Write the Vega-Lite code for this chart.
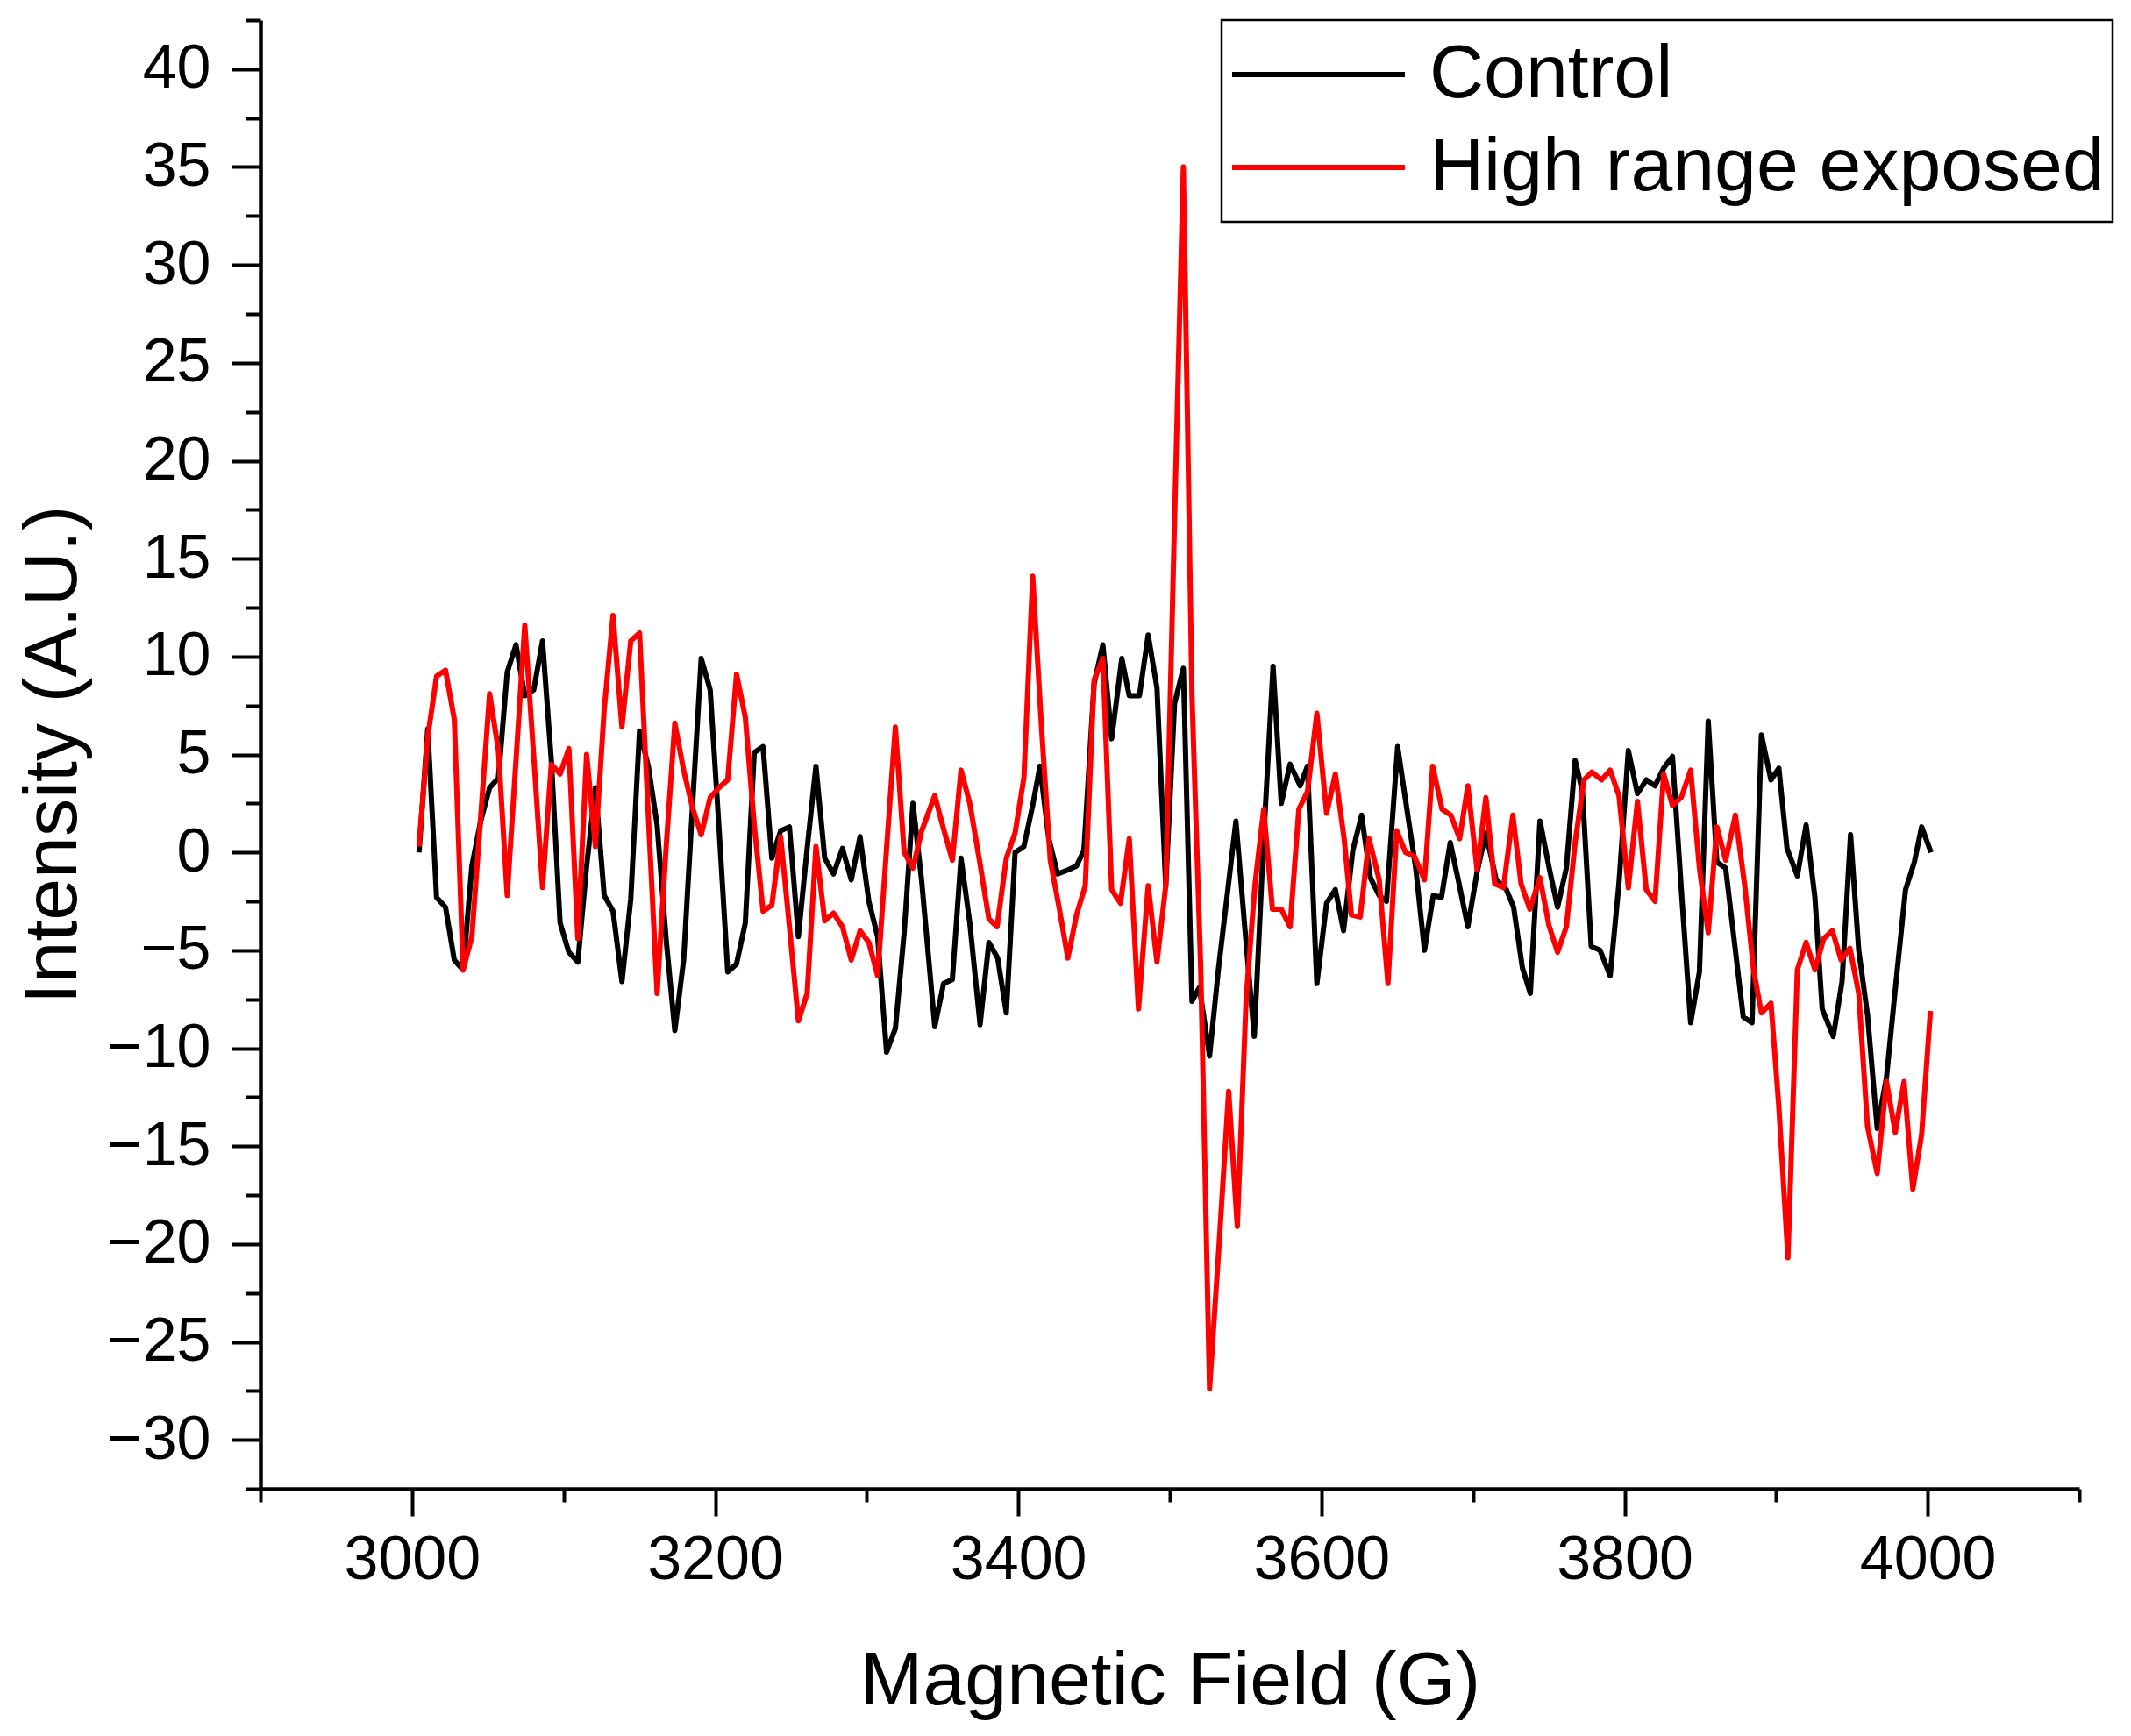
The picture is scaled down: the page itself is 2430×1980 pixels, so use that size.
{
  "$schema": "https://vega.github.io/schema/vega-lite/v6.json",
  "width": 2074,
  "height": 1675,
  "autosize": {"type": "none"},
  "padding": {"left": 297, "top": 23, "right": 59, "bottom": 282},
  "background": "white",
  "config": {
    "view": {"stroke": null},
    "font": "Liberation Sans",
    "legend": {"strokeWidth": 2.5}
  },
  "data": {
    "values": [
      {"series":"Control","magnetic_field":3004.6,"intensity":0.0},
      {"series":"Control","magnetic_field":3010.4,"intensity":6.3},
      {"series":"Control","magnetic_field":3016.2,"intensity":-2.3},
      {"series":"Control","magnetic_field":3022.1,"intensity":-2.8},
      {"series":"Control","magnetic_field":3027.9,"intensity":-5.5},
      {"series":"Control","magnetic_field":3033.7,"intensity":-6.0},
      {"series":"Control","magnetic_field":3039.5,"intensity":-0.7},
      {"series":"Control","magnetic_field":3045.3,"intensity":1.6},
      {"series":"Control","magnetic_field":3051.2,"intensity":3.3},
      {"series":"Control","magnetic_field":3057.0,"intensity":3.8},
      {"series":"Control","magnetic_field":3062.8,"intensity":9.2},
      {"series":"Control","magnetic_field":3068.6,"intensity":10.6},
      {"series":"Control","magnetic_field":3074.4,"intensity":8.0},
      {"series":"Control","magnetic_field":3080.3,"intensity":8.3},
      {"series":"Control","magnetic_field":3086.1,"intensity":10.8},
      {"series":"Control","magnetic_field":3091.9,"intensity":4.7},
      {"series":"Control","magnetic_field":3097.7,"intensity":-3.6},
      {"series":"Control","magnetic_field":3103.5,"intensity":-5.1},
      {"series":"Control","magnetic_field":3109.4,"intensity":-5.6},
      {"series":"Control","magnetic_field":3115.2,"intensity":-0.7},
      {"series":"Control","magnetic_field":3121.0,"intensity":3.3},
      {"series":"Control","magnetic_field":3126.8,"intensity":-2.2},
      {"series":"Control","magnetic_field":3132.6,"intensity":-3.0},
      {"series":"Control","magnetic_field":3138.5,"intensity":-6.6},
      {"series":"Control","magnetic_field":3144.3,"intensity":-2.4},
      {"series":"Control","magnetic_field":3150.1,"intensity":6.2},
      {"series":"Control","magnetic_field":3155.9,"intensity":4.4},
      {"series":"Control","magnetic_field":3161.7,"intensity":1.4},
      {"series":"Control","magnetic_field":3167.6,"intensity":-4.4},
      {"series":"Control","magnetic_field":3173.4,"intensity":-9.1},
      {"series":"Control","magnetic_field":3179.2,"intensity":-5.5},
      {"series":"Control","magnetic_field":3185.0,"intensity":2.3},
      {"series":"Control","magnetic_field":3190.8,"intensity":9.9},
      {"series":"Control","magnetic_field":3196.7,"intensity":8.3},
      {"series":"Control","magnetic_field":3202.5,"intensity":1.3},
      {"series":"Control","magnetic_field":3208.3,"intensity":-6.1},
      {"series":"Control","magnetic_field":3214.1,"intensity":-5.7},
      {"series":"Control","magnetic_field":3219.9,"intensity":-3.6},
      {"series":"Control","magnetic_field":3225.8,"intensity":5.1},
      {"series":"Control","magnetic_field":3231.6,"intensity":5.4},
      {"series":"Control","magnetic_field":3237.4,"intensity":-0.3},
      {"series":"Control","magnetic_field":3243.2,"intensity":1.1},
      {"series":"Control","magnetic_field":3249.0,"intensity":1.3},
      {"series":"Control","magnetic_field":3254.9,"intensity":-4.3},
      {"series":"Control","magnetic_field":3260.7,"intensity":0.2},
      {"series":"Control","magnetic_field":3266.5,"intensity":4.4},
      {"series":"Control","magnetic_field":3272.3,"intensity":-0.3},
      {"series":"Control","magnetic_field":3278.1,"intensity":-1.1},
      {"series":"Control","magnetic_field":3284.0,"intensity":0.2},
      {"series":"Control","magnetic_field":3289.8,"intensity":-1.4},
      {"series":"Control","magnetic_field":3295.6,"intensity":0.8},
      {"series":"Control","magnetic_field":3301.4,"intensity":-2.5},
      {"series":"Control","magnetic_field":3307.2,"intensity":-4.3},
      {"series":"Control","magnetic_field":3313.1,"intensity":-10.2},
      {"series":"Control","magnetic_field":3318.9,"intensity":-9.0},
      {"series":"Control","magnetic_field":3324.7,"intensity":-4.1},
      {"series":"Control","magnetic_field":3330.5,"intensity":2.5},
      {"series":"Control","magnetic_field":3336.3,"intensity":-1.5},
      {"series":"Control","magnetic_field":3344.9,"intensity":-8.9},
      {"series":"Control","magnetic_field":3350.7,"intensity":-6.7},
      {"series":"Control","magnetic_field":3356.5,"intensity":-6.5},
      {"series":"Control","magnetic_field":3362.2,"intensity":-0.3},
      {"series":"Control","magnetic_field":3368.0,"intensity":-3.6},
      {"series":"Control","magnetic_field":3374.8,"intensity":-8.8},
      {"series":"Control","magnetic_field":3380.6,"intensity":-4.6},
      {"series":"Control","magnetic_field":3386.4,"intensity":-5.4},
      {"series":"Control","magnetic_field":3392.1,"intensity":-8.2},
      {"series":"Control","magnetic_field":3397.9,"intensity":0.0},
      {"series":"Control","magnetic_field":3403.7,"intensity":0.3},
      {"series":"Control","magnetic_field":3409.5,"intensity":2.4},
      {"series":"Control","magnetic_field":3414.3,"intensity":4.4},
      {"series":"Control","magnetic_field":3420.1,"intensity":0.7},
      {"series":"Control","magnetic_field":3425.9,"intensity":-1.1},
      {"series":"Control","magnetic_field":3432.7,"intensity":-0.9},
      {"series":"Control","magnetic_field":3438.4,"intensity":-0.7},
      {"series":"Control","magnetic_field":3443.3,"intensity":0.1},
      {"series":"Control","magnetic_field":3450.0,"intensity":8.6},
      {"series":"Control","magnetic_field":3455.8,"intensity":10.6},
      {"series":"Control","magnetic_field":3461.6,"intensity":5.8},
      {"series":"Control","magnetic_field":3468.3,"intensity":9.9},
      {"series":"Control","magnetic_field":3473.2,"intensity":8.0},
      {"series":"Control","magnetic_field":3479.9,"intensity":8.0},
      {"series":"Control","magnetic_field":3485.7,"intensity":11.1},
      {"series":"Control","magnetic_field":3491.5,"intensity":8.4},
      {"series":"Control","magnetic_field":3497.3,"intensity":-1.7},
      {"series":"Control","magnetic_field":3503.1,"intensity":7.6},
      {"series":"Control","magnetic_field":3508.9,"intensity":9.4},
      {"series":"Control","magnetic_field":3514.6,"intensity":-7.6},
      {"series":"Control","magnetic_field":3519.5,"intensity":-6.9},
      {"series":"Control","magnetic_field":3526.2,"intensity":-10.4},
      {"series":"Control","magnetic_field":3532.0,"intensity":-6.0},
      {"series":"Control","magnetic_field":3537.8,"intensity":-2.2},
      {"series":"Control","magnetic_field":3543.6,"intensity":1.6},
      {"series":"Control","magnetic_field":3549.4,"intensity":-3.8},
      {"series":"Control","magnetic_field":3555.7,"intensity":-9.4},
      {"series":"Control","magnetic_field":3561.9,"intensity":0.7},
      {"series":"Control","magnetic_field":3568.1,"intensity":9.5},
      {"series":"Control","magnetic_field":3573.5,"intensity":2.5},
      {"series":"Control","magnetic_field":3579.3,"intensity":4.5},
      {"series":"Control","magnetic_field":3586.0,"intensity":3.4},
      {"series":"Control","magnetic_field":3590.8,"intensity":4.4},
      {"series":"Control","magnetic_field":3597.0,"intensity":-6.7},
      {"series":"Control","magnetic_field":3603.4,"intensity":-2.6},
      {"series":"Control","magnetic_field":3609.2,"intensity":-1.9},
      {"series":"Control","magnetic_field":3614.6,"intensity":-4.0},
      {"series":"Control","magnetic_field":3620.7,"intensity":0.1},
      {"series":"Control","magnetic_field":3626.5,"intensity":1.9},
      {"series":"Control","magnetic_field":3632.3,"intensity":-1.3},
      {"series":"Control","magnetic_field":3638.1,"intensity":-2.2},
      {"series":"Control","magnetic_field":3642.9,"intensity":-2.5},
      {"series":"Control","magnetic_field":3650.3,"intensity":5.4},
      {"series":"Control","magnetic_field":3656.4,"intensity":2.2},
      {"series":"Control","magnetic_field":3662.2,"intensity":-0.8},
      {"series":"Control","magnetic_field":3668.0,"intensity":-5.0},
      {"series":"Control","magnetic_field":3673.8,"intensity":-2.2},
      {"series":"Control","magnetic_field":3679.2,"intensity":-2.3},
      {"series":"Control","magnetic_field":3685.0,"intensity":0.5},
      {"series":"Control","magnetic_field":3690.8,"intensity":-1.6},
      {"series":"Control","magnetic_field":3696.6,"intensity":-3.8},
      {"series":"Control","magnetic_field":3702.7,"intensity":-1.0},
      {"series":"Control","magnetic_field":3708.5,"intensity":1.0},
      {"series":"Control","magnetic_field":3715.3,"intensity":-1.4},
      {"series":"Control","magnetic_field":3722.0,"intensity":-1.9},
      {"series":"Control","magnetic_field":3726.8,"intensity":-2.8},
      {"series":"Control","magnetic_field":3732.6,"intensity":-5.9},
      {"series":"Control","magnetic_field":3737.8,"intensity":-7.2},
      {"series":"Control","magnetic_field":3744.2,"intensity":1.6},
      {"series":"Control","magnetic_field":3750.0,"intensity":-0.7},
      {"series":"Control","magnetic_field":3755.8,"intensity":-2.8},
      {"series":"Control","magnetic_field":3761.6,"intensity":-0.8},
      {"series":"Control","magnetic_field":3767.4,"intensity":4.7},
      {"series":"Control","magnetic_field":3772.2,"intensity":3.1},
      {"series":"Control","magnetic_field":3778.0,"intensity":-4.8},
      {"series":"Control","magnetic_field":3783.8,"intensity":-5.0},
      {"series":"Control","magnetic_field":3790.5,"intensity":-6.3},
      {"series":"Control","magnetic_field":3796.3,"intensity":-1.6},
      {"series":"Control","magnetic_field":3802.5,"intensity":5.2},
      {"series":"Control","magnetic_field":3808.5,"intensity":3.0},
      {"series":"Control","magnetic_field":3814.3,"intensity":3.7},
      {"series":"Control","magnetic_field":3820.1,"intensity":3.4},
      {"series":"Control","magnetic_field":3825.8,"intensity":4.3},
      {"series":"Control","magnetic_field":3831.6,"intensity":4.9},
      {"series":"Control","magnetic_field":3837.8,"intensity":-2.3},
      {"series":"Control","magnetic_field":3843.6,"intensity":-8.7},
      {"series":"Control","magnetic_field":3849.4,"intensity":-6.1},
      {"series":"Control","magnetic_field":3855.2,"intensity":6.7},
      {"series":"Control","magnetic_field":3860.9,"intensity":-0.5},
      {"series":"Control","magnetic_field":3866.7,"intensity":-0.8},
      {"series":"Control","magnetic_field":3872.5,"intensity":-4.6},
      {"series":"Control","magnetic_field":3878.3,"intensity":-8.4},
      {"series":"Control","magnetic_field":3884.1,"intensity":-8.7},
      {"series":"Control","magnetic_field":3890.3,"intensity":6.0},
      {"series":"Control","magnetic_field":3896.6,"intensity":3.7},
      {"series":"Control","magnetic_field":3901.8,"intensity":4.3},
      {"series":"Control","magnetic_field":3907.2,"intensity":0.2},
      {"series":"Control","magnetic_field":3914.0,"intensity":-1.2},
      {"series":"Control","magnetic_field":3919.8,"intensity":1.4},
      {"series":"Control","magnetic_field":3925.6,"intensity":-2.3},
      {"series":"Control","magnetic_field":3930.4,"intensity":-8.0},
      {"series":"Control","magnetic_field":3937.7,"intensity":-9.4},
      {"series":"Control","magnetic_field":3943.5,"intensity":-6.6},
      {"series":"Control","magnetic_field":3949.1,"intensity":0.9},
      {"series":"Control","magnetic_field":3954.5,"intensity":-5.0},
      {"series":"Control","magnetic_field":3960.3,"intensity":-8.3},
      {"series":"Control","magnetic_field":3966.7,"intensity":-14.1},
      {"series":"Control","magnetic_field":3972.8,"intensity":-11.5},
      {"series":"Control","magnetic_field":3978.6,"intensity":-7.0},
      {"series":"Control","magnetic_field":3985.4,"intensity":-1.9},
      {"series":"Control","magnetic_field":3991.2,"intensity":-0.5},
      {"series":"Control","magnetic_field":3996.0,"intensity":1.3},
      {"series":"Control","magnetic_field":4002.2,"intensity":0.0},
      {"series":"High range exposed","magnetic_field":3004.6,"intensity":0.3},
      {"series":"High range exposed","magnetic_field":3010.4,"intensity":5.9},
      {"series":"High range exposed","magnetic_field":3016.2,"intensity":9.0},
      {"series":"High range exposed","magnetic_field":3022.1,"intensity":9.3},
      {"series":"High range exposed","magnetic_field":3027.9,"intensity":6.8},
      {"series":"High range exposed","magnetic_field":3033.7,"intensity":-6.0},
      {"series":"High range exposed","magnetic_field":3039.5,"intensity":-4.3},
      {"series":"High range exposed","magnetic_field":3045.3,"intensity":1.8},
      {"series":"High range exposed","magnetic_field":3051.2,"intensity":8.1},
      {"series":"High range exposed","magnetic_field":3057.0,"intensity":5.2},
      {"series":"High range exposed","magnetic_field":3062.8,"intensity":-2.2},
      {"series":"High range exposed","magnetic_field":3068.6,"intensity":4.7},
      {"series":"High range exposed","magnetic_field":3074.4,"intensity":11.6},
      {"series":"High range exposed","magnetic_field":3080.3,"intensity":4.9},
      {"series":"High range exposed","magnetic_field":3086.1,"intensity":-1.8},
      {"series":"High range exposed","magnetic_field":3091.9,"intensity":4.5},
      {"series":"High range exposed","magnetic_field":3097.7,"intensity":4.0},
      {"series":"High range exposed","magnetic_field":3103.5,"intensity":5.3},
      {"series":"High range exposed","magnetic_field":3109.4,"intensity":-4.4},
      {"series":"High range exposed","magnetic_field":3115.2,"intensity":5.0},
      {"series":"High range exposed","magnetic_field":3121.0,"intensity":0.3},
      {"series":"High range exposed","magnetic_field":3126.8,"intensity":7.3},
      {"series":"High range exposed","magnetic_field":3132.6,"intensity":12.1},
      {"series":"High range exposed","magnetic_field":3138.5,"intensity":6.4},
      {"series":"High range exposed","magnetic_field":3144.3,"intensity":10.8},
      {"series":"High range exposed","magnetic_field":3150.1,"intensity":11.2},
      {"series":"High range exposed","magnetic_field":3155.9,"intensity":1.9},
      {"series":"High range exposed","magnetic_field":3161.7,"intensity":-7.2},
      {"series":"High range exposed","magnetic_field":3167.6,"intensity":0.2},
      {"series":"High range exposed","magnetic_field":3173.4,"intensity":6.6},
      {"series":"High range exposed","magnetic_field":3179.2,"intensity":4.2},
      {"series":"High range exposed","magnetic_field":3185.0,"intensity":2.3},
      {"series":"High range exposed","magnetic_field":3190.8,"intensity":0.9},
      {"series":"High range exposed","magnetic_field":3196.7,"intensity":2.8},
      {"series":"High range exposed","magnetic_field":3202.5,"intensity":3.3},
      {"series":"High range exposed","magnetic_field":3208.3,"intensity":3.7},
      {"series":"High range exposed","magnetic_field":3214.1,"intensity":9.1},
      {"series":"High range exposed","magnetic_field":3219.9,"intensity":6.9},
      {"series":"High range exposed","magnetic_field":3225.8,"intensity":1.4},
      {"series":"High range exposed","magnetic_field":3231.6,"intensity":-3.0},
      {"series":"High range exposed","magnetic_field":3237.4,"intensity":-2.7},
      {"series":"High range exposed","magnetic_field":3243.2,"intensity":0.8},
      {"series":"High range exposed","magnetic_field":3249.0,"intensity":-3.8},
      {"series":"High range exposed","magnetic_field":3254.9,"intensity":-8.6},
      {"series":"High range exposed","magnetic_field":3260.7,"intensity":-7.2},
      {"series":"High range exposed","magnetic_field":3266.5,"intensity":0.3},
      {"series":"High range exposed","magnetic_field":3272.3,"intensity":-3.5},
      {"series":"High range exposed","magnetic_field":3278.1,"intensity":-3.1},
      {"series":"High range exposed","magnetic_field":3284.0,"intensity":-3.8},
      {"series":"High range exposed","magnetic_field":3289.8,"intensity":-5.5},
      {"series":"High range exposed","magnetic_field":3295.6,"intensity":-4.0},
      {"series":"High range exposed","magnetic_field":3301.4,"intensity":-4.6},
      {"series":"High range exposed","magnetic_field":3307.2,"intensity":-6.3},
      {"series":"High range exposed","magnetic_field":3313.1,"intensity":0.2},
      {"series":"High range exposed","magnetic_field":3318.9,"intensity":6.4},
      {"series":"High range exposed","magnetic_field":3324.7,"intensity":0.0},
      {"series":"High range exposed","magnetic_field":3330.5,"intensity":-0.8},
      {"series":"High range exposed","magnetic_field":3336.3,"intensity":1.1},
      {"series":"High range exposed","magnetic_field":3344.9,"intensity":2.9},
      {"series":"High range exposed","magnetic_field":3350.7,"intensity":1.2},
      {"series":"High range exposed","magnetic_field":3356.5,"intensity":-0.4},
      {"series":"High range exposed","magnetic_field":3362.2,"intensity":4.2},
      {"series":"High range exposed","magnetic_field":3368.0,"intensity":2.5},
      {"series":"High range exposed","magnetic_field":3374.8,"intensity":-0.6},
      {"series":"High range exposed","magnetic_field":3380.6,"intensity":-3.4},
      {"series":"High range exposed","magnetic_field":3386.0,"intensity":-3.8},
      {"series":"High range exposed","magnetic_field":3392.1,"intensity":-0.3},
      {"series":"High range exposed","magnetic_field":3397.9,"intensity":1.0},
      {"series":"High range exposed","magnetic_field":3403.7,"intensity":3.8},
      {"series":"High range exposed","magnetic_field":3409.5,"intensity":14.1},
      {"series":"High range exposed","magnetic_field":3415.3,"intensity":6.4},
      {"series":"High range exposed","magnetic_field":3421.1,"intensity":-0.4},
      {"series":"High range exposed","magnetic_field":3426.9,"intensity":-2.8},
      {"series":"High range exposed","magnetic_field":3432.7,"intensity":-5.4},
      {"series":"High range exposed","magnetic_field":3438.4,"intensity":-3.2},
      {"series":"High range exposed","magnetic_field":3444.2,"intensity":-1.7},
      {"series":"High range exposed","magnetic_field":3450.0,"intensity":8.8},
      {"series":"High range exposed","magnetic_field":3455.8,"intensity":9.9},
      {"series":"High range exposed","magnetic_field":3461.6,"intensity":-1.9},
      {"series":"High range exposed","magnetic_field":3467.4,"intensity":-2.6},
      {"series":"High range exposed","magnetic_field":3473.2,"intensity":0.7},
      {"series":"High range exposed","magnetic_field":3479.3,"intensity":-8.0},
      {"series":"High range exposed","magnetic_field":3485.7,"intensity":-1.7},
      {"series":"High range exposed","magnetic_field":3491.5,"intensity":-5.6},
      {"series":"High range exposed","magnetic_field":3497.3,"intensity":-1.7},
      {"series":"High range exposed","magnetic_field":3503.1,"intensity":17.0},
      {"series":"High range exposed","magnetic_field":3508.9,"intensity":35.0},
      {"series":"High range exposed","magnetic_field":3514.6,"intensity":8.0},
      {"series":"High range exposed","magnetic_field":3520.4,"intensity":-6.0},
      {"series":"High range exposed","magnetic_field":3526.2,"intensity":-27.4},
      {"series":"High range exposed","magnetic_field":3532.5,"intensity":-20.0},
      {"series":"High range exposed","magnetic_field":3538.8,"intensity":-12.2},
      {"series":"High range exposed","magnetic_field":3544.5,"intensity":-19.1},
      {"series":"High range exposed","magnetic_field":3550.3,"intensity":-7.5},
      {"series":"High range exposed","magnetic_field":3556.1,"intensity":-1.7},
      {"series":"High range exposed","magnetic_field":3561.9,"intensity":2.2},
      {"series":"High range exposed","magnetic_field":3567.7,"intensity":-2.9},
      {"series":"High range exposed","magnetic_field":3573.5,"intensity":-2.9},
      {"series":"High range exposed","magnetic_field":3579.3,"intensity":-3.8},
      {"series":"High range exposed","magnetic_field":3585.1,"intensity":2.2},
      {"series":"High range exposed","magnetic_field":3590.8,"intensity":3.1},
      {"series":"High range exposed","magnetic_field":3597.0,"intensity":7.1},
      {"series":"High range exposed","magnetic_field":3603.4,"intensity":2.0},
      {"series":"High range exposed","magnetic_field":3609.2,"intensity":4.0},
      {"series":"High range exposed","magnetic_field":3615.0,"intensity":0.7},
      {"series":"High range exposed","magnetic_field":3619.8,"intensity":-3.2},
      {"series":"High range exposed","magnetic_field":3625.6,"intensity":-3.3},
      {"series":"High range exposed","magnetic_field":3631.4,"intensity":0.7},
      {"series":"High range exposed","magnetic_field":3638.1,"intensity":-1.4},
      {"series":"High range exposed","magnetic_field":3643.9,"intensity":-6.7},
      {"series":"High range exposed","magnetic_field":3649.7,"intensity":1.1},
      {"series":"High range exposed","magnetic_field":3655.5,"intensity":0.0},
      {"series":"High range exposed","magnetic_field":3661.3,"intensity":-0.2},
      {"series":"High range exposed","magnetic_field":3668.0,"intensity":-1.4},
      {"series":"High range exposed","magnetic_field":3673.4,"intensity":4.4},
      {"series":"High range exposed","magnetic_field":3679.6,"intensity":2.2},
      {"series":"High range exposed","magnetic_field":3685.4,"intensity":1.9},
      {"series":"High range exposed","magnetic_field":3691.2,"intensity":0.7},
      {"series":"High range exposed","magnetic_field":3696.6,"intensity":3.4},
      {"series":"High range exposed","magnetic_field":3702.7,"intensity":-0.9},
      {"series":"High range exposed","magnetic_field":3708.5,"intensity":2.8},
      {"series":"High range exposed","magnetic_field":3714.3,"intensity":-1.6},
      {"series":"High range exposed","magnetic_field":3720.1,"intensity":-1.8},
      {"series":"High range exposed","magnetic_field":3726.3,"intensity":1.9},
      {"series":"High range exposed","magnetic_field":3731.7,"intensity":-1.6},
      {"series":"High range exposed","magnetic_field":3737.5,"intensity":-2.9},
      {"series":"High range exposed","magnetic_field":3744.2,"intensity":-1.3},
      {"series":"High range exposed","magnetic_field":3750.0,"intensity":-3.7},
      {"series":"High range exposed","magnetic_field":3755.8,"intensity":-5.1},
      {"series":"High range exposed","magnetic_field":3761.6,"intensity":-3.8},
      {"series":"High range exposed","magnetic_field":3767.4,"intensity":0.5},
      {"series":"High range exposed","magnetic_field":3773.2,"intensity":3.7},
      {"series":"High range exposed","magnetic_field":3778.4,"intensity":4.1},
      {"series":"High range exposed","magnetic_field":3784.8,"intensity":3.7},
      {"series":"High range exposed","magnetic_field":3790.5,"intensity":4.2},
      {"series":"High range exposed","magnetic_field":3796.3,"intensity":2.9},
      {"series":"High range exposed","magnetic_field":3802.5,"intensity":-1.8},
      {"series":"High range exposed","magnetic_field":3808.5,"intensity":2.6},
      {"series":"High range exposed","magnetic_field":3814.3,"intensity":-1.9},
      {"series":"High range exposed","magnetic_field":3820.1,"intensity":-2.5},
      {"series":"High range exposed","magnetic_field":3825.8,"intensity":4.0},
      {"series":"High range exposed","magnetic_field":3831.6,"intensity":2.4},
      {"series":"High range exposed","magnetic_field":3837.4,"intensity":2.8},
      {"series":"High range exposed","magnetic_field":3843.6,"intensity":4.2},
      {"series":"High range exposed","magnetic_field":3849.4,"intensity":-0.8},
      {"series":"High range exposed","magnetic_field":3855.2,"intensity":-4.1},
      {"series":"High range exposed","magnetic_field":3860.9,"intensity":1.3},
      {"series":"High range exposed","magnetic_field":3866.7,"intensity":-0.4},
      {"series":"High range exposed","magnetic_field":3873.1,"intensity":1.9},
      {"series":"High range exposed","magnetic_field":3879.3,"intensity":-1.7},
      {"series":"High range exposed","magnetic_field":3885.1,"intensity":-6.0},
      {"series":"High range exposed","magnetic_field":3890.3,"intensity":-8.2},
      {"series":"High range exposed","magnetic_field":3896.6,"intensity":-7.7},
      {"series":"High range exposed","magnetic_field":3901.8,"intensity":-13.0},
      {"series":"High range exposed","magnetic_field":3907.8,"intensity":-20.7},
      {"series":"High range exposed","magnetic_field":3914.0,"intensity":-6.0},
      {"series":"High range exposed","magnetic_field":3919.8,"intensity":-4.6},
      {"series":"High range exposed","magnetic_field":3925.6,"intensity":-6.0},
      {"series":"High range exposed","magnetic_field":3931.4,"intensity":-4.4},
      {"series":"High range exposed","magnetic_field":3937.1,"intensity":-4.0},
      {"series":"High range exposed","magnetic_field":3942.9,"intensity":-5.5},
      {"series":"High range exposed","magnetic_field":3948.7,"intensity":-4.9},
      {"series":"High range exposed","magnetic_field":3954.5,"intensity":-7.2},
      {"series":"High range exposed","magnetic_field":3960.3,"intensity":-14.0},
      {"series":"High range exposed","magnetic_field":3966.7,"intensity":-16.4},
      {"series":"High range exposed","magnetic_field":3972.8,"intensity":-11.7},
      {"series":"High range exposed","magnetic_field":3978.6,"intensity":-14.3},
      {"series":"High range exposed","magnetic_field":3984.4,"intensity":-11.7},
      {"series":"High range exposed","magnetic_field":3990.2,"intensity":-17.2},
      {"series":"High range exposed","magnetic_field":3996.0,"intensity":-14.4},
      {"series":"High range exposed","magnetic_field":4001.8,"intensity":-8.1}
    ]
  },
  "mark": {"type": "line", "strokeWidth": 6, "strokeJoin": "round", "clip": true},
  "encoding": {
    "x": {
      "field": "magnetic_field",
      "type": "quantitative",
      "scale": {"domain": [2900, 4100], "nice": false, "zero": false},
      "axis": {
        "title": "Magnetic Field (G)",
        "values": [2900, 3000, 3100, 3200, 3300, 3400, 3500, 3600, 3700, 3800, 3900, 4000, 4100],
        "labelExpr": "datum.value % 200 === 0 ? datum.label : ''",
        "format": "d",
        "grid": false,
        "domainColor": "black",
        "domainWidth": 4.5,
        "tickColor": "black",
        "tickWidth": 4,
        "tickSize": {"condition": {"test": "datum.value % 200 === 0", "value": 31}, "value": 15},
        "labelFont": "Liberation Sans",
        "labelFontSize": 70,
        "labelColor": "black",
        "labelPadding": 16,
        "labelFlush": false,
        "labelOverlap": false,
        "titleFont": "Liberation Sans",
        "titleFontSize": 86,
        "titleFontWeight": "normal",
        "titleColor": "black",
        "titleX": 1037,
        "titleY": 245,
        "titleAlign": "center",
        "titleBaseline": "alphabetic"
      }
    },
    "y": {
      "field": "intensity",
      "type": "quantitative",
      "scale": {"domain": [-32.5, 42.5], "nice": false, "zero": false},
      "axis": {
        "title": "Intensity (A.U.)",
        "values": [-32.5, -30, -27.5, -25, -22.5, -20, -17.5, -15, -12.5, -10, -7.5, -5, -2.5, 0, 2.5, 5, 7.5, 10, 12.5, 15, 17.5, 20, 22.5, 25, 27.5, 30, 32.5, 35, 37.5, 40, 42.5],
        "labelExpr": "datum.value % 5 === 0 ? datum.label : ''",
        "format": "d",
        "grid": false,
        "domainColor": "black",
        "domainWidth": 4.5,
        "tickColor": "black",
        "tickWidth": 4,
        "tickSize": {"condition": {"test": "datum.value % 5 === 0", "value": 33}, "value": 17},
        "labelFont": "Liberation Sans",
        "labelFontSize": 70,
        "labelColor": "black",
        "labelPadding": 24,
        "labelFlush": false,
        "labelOverlap": false,
        "titleFont": "Liberation Sans",
        "titleFontSize": 86,
        "titleFontWeight": "normal",
        "titleColor": "black",
        "titleAngle": 270,
        "titleX": -237,
        "titleY": 837.5,
        "titleAlign": "center",
        "titleBaseline": "middle"
      }
    },
    "color": {
      "field": "series",
      "type": "nominal",
      "scale": {"domain": ["Control", "High range exposed"], "range": ["#000000", "#ff0000"]},
      "legend": {
        "title": null,
        "orient": "none",
        "legendX": 1096,
        "legendY": 0,
        "symbolType": "stroke",
        "symbolSize": 38809,
        "symbolStrokeWidth": 6,
        "clipHeight": 106,
        "rowPadding": 0,
        "padding": 9,
        "labelFont": "Liberation Sans",
        "labelFontSize": 86,
        "labelColor": "black",
        "labelOffset": 25,
        "labelLimit": 2000,
        "strokeColor": "black",
        "fillColor": "white"
      }
    }
  }
}
